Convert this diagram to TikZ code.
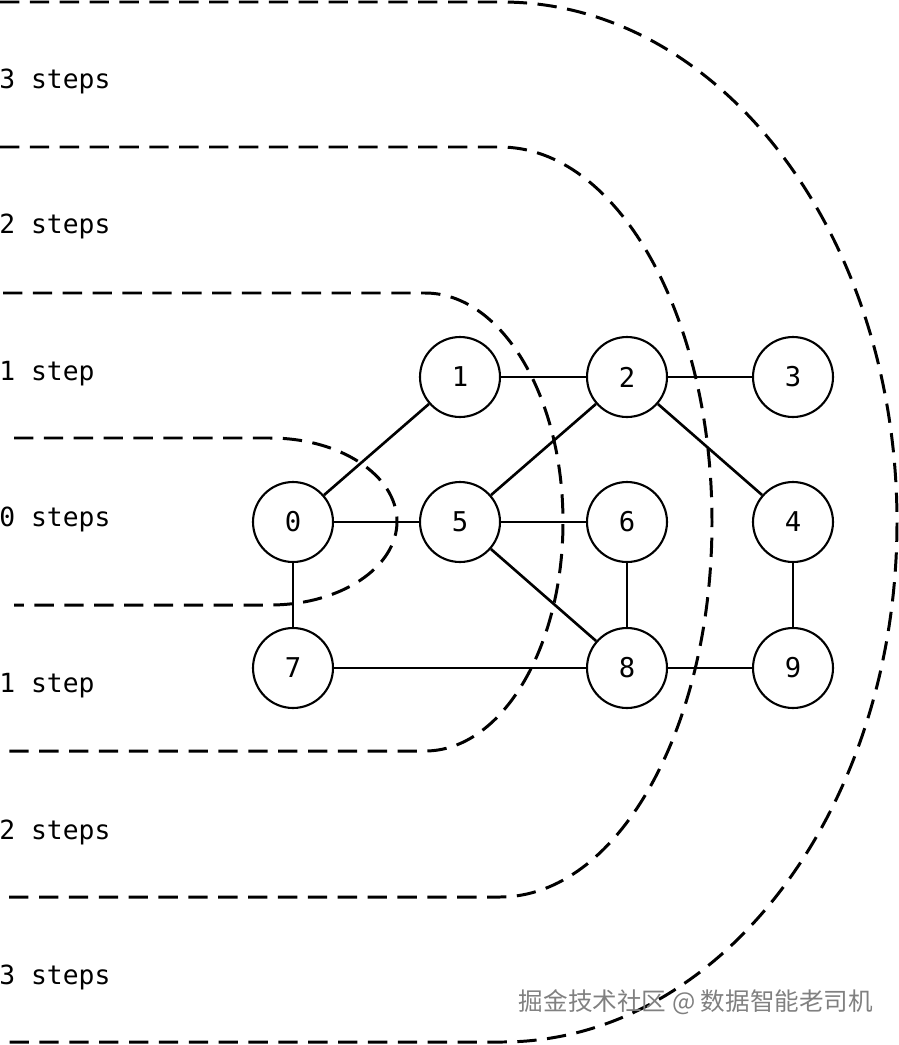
\documentclass[tikz,border=0pt]{standalone}
\usepackage{fontspec}
\setmonofont{DejaVu Sans Mono}
\newfontfamily\cjk{Noto Sans CJK SC}
\begin{document}
\begin{tikzpicture}[x=0.02cm, y=-0.02cm,
  vertex/.style={circle, draw, fill=white, line width=1.2pt, minimum size=1.6cm, inner sep=0pt, font=\ttfamily\fontsize{15.5}{18}\selectfont},
  edge/.style={line width=1.5pt},
  ring/.style={line width=1.7pt, dash pattern=on 11pt off 6pt},
  hops/.style={anchor=base west, inner sep=0pt, font=\ttfamily\fontsize{15}{18}\selectfont}]
\useasboundingbox (0,0) rectangle (899,1045);
% rings
\draw[ring] (14,438) -- (270,438) arc[start angle=-90, end angle=90, x radius=127, y radius=83.5] -- (14,605);
\draw[ring] (3,293) -- (425,293) arc[start angle=-90, end angle=90, x radius=138, y radius=229] -- (3,751);
\draw[ring] (0,147) -- (500,147) arc[start angle=-90, end angle=90, x radius=212, y radius=375] -- (0,897);
\draw[ring] (0,2) -- (502,2) arc[start angle=-90, end angle=90, x radius=395, y radius=520] -- (0,1042);
%
\node[vertex] (n0) at (293,522) {0};
\node[vertex] (n1) at (460,377) {1};
\node[vertex] (n2) at (627,377) {2};
\node[vertex] (n3) at (793,377) {3};
\node[vertex] (n5) at (460,522) {5};
\node[vertex] (n6) at (627,522) {6};
\node[vertex] (n4) at (793,522) {4};
\node[vertex] (n7) at (293,668) {7};
\node[vertex] (n8) at (627,668) {8};
\node[vertex] (n9) at (793,668) {9};
%
\foreach \a/\b in {0/1,0/5,0/7,1/2,2/3,2/5,2/4,5/6,5/8,6/8,7/8,8/9,4/9}
  \draw[edge] (n\a) -- (n\b);
%
\node[hops] (up3) at (-1,88) {3 steps};
\node[hops] (up2) at (-1,233) {2 steps};
\node[hops] (up1) at (-1,380) {1 step};
\node[hops] (zero) at (-1,526) {0 steps};
\node[hops] (dn1) at (-1,692) {1 step};
\node[hops] (dn2) at (-1,839) {2 steps};
\node[hops] (dn3) at (-1,984) {3 steps};
%
\node[text=gray, font=\cjk\fontsize{14}{17}\selectfont] (mark) at (696,1002) {掘金技术社区 @ 数据智能老司机};
\end{tikzpicture}
\end{document}
